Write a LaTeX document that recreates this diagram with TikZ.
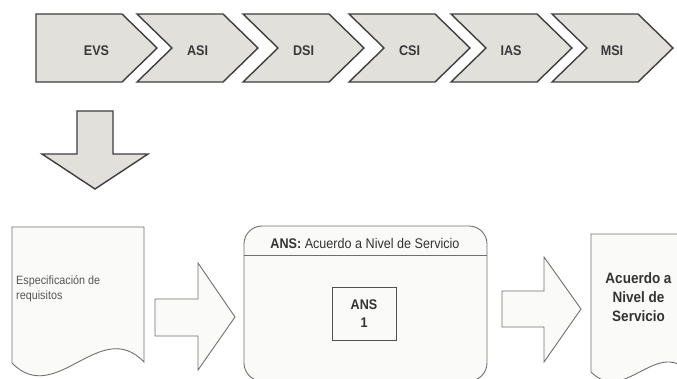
\documentclass[tikz,border=0pt]{standalone}
\usepackage{fontspec}
\setmainfont{Liberation Sans}[FakeStretch=0.9]
\definecolor{chevfill}{HTML}{E1E0DB}
\definecolor{chevline}{HTML}{3E3E3E}
\definecolor{chevtext}{HTML}{383838}
\definecolor{paper}{HTML}{FAFAF8}
\definecolor{lightline}{HTML}{707070}
\definecolor{boxline}{HTML}{505050}
\definecolor{darktext}{HTML}{333333}
\definecolor{graytext}{HTML}{555555}
\begin{document}
\begin{tikzpicture}[x=1pt,y=-1pt,
  chev/.style={fill=chevfill,draw=chevline,line width=1.4pt,line join=miter},
  chevlabel/.style={font=\bfseries\fontsize{14}{16}\selectfont,text=chevtext,inner sep=0pt,anchor=base},
  light/.style={fill=paper,draw=lightline,line width=0.9pt,line join=miter},
  smalltext/.style={font=\fontsize{12}{15}\selectfont,text=graytext,inner sep=0pt,anchor=base west},
  boldtext/.style={font=\bfseries\fontsize{15}{19}\selectfont,text=darktext,inner sep=0pt,align=center}]
\clip (0,0) rectangle (677,378);
\useasboundingbox (0,0) rectangle (677,378);
% chevron process bar
\path[chev] (36,14) -- (122,14) -- (157,48) -- (122,82) -- (36,82) -- cycle;
\foreach \L in {137,243,349,451,552}
  \path[chev] (\L,14) -- ++(86,0) -- ++(35,34) -- ++(-35,34) -- ++(-86,0) -- ++(35,-34) -- cycle;
\node[chevlabel] (evs) at (96.5,55) {EVS};
\node[chevlabel] (asi) at (197.5,55) {ASI};
\node[chevlabel] (dsi) at (303.5,55) {DSI};
\node[chevlabel] (csi) at (409.5,55) {CSI};
\node[chevlabel] (ias) at (511,55) {IAS};
\node[chevlabel] (msi) at (612,55) {MSI};
% down arrow
\path[chev] (77,111) -- (113,111) -- (113,154) -- (148,154) -- (95,189) -- (42,154) -- (77,154) -- cycle;
% document 1
\path[light] (12,227) -- (144,227) -- (144,362)
  .. controls (100,316) and (56,408) .. (12,363) -- cycle;
\node[smalltext] (spec1) at (16,284) {Especificación de};
\node[smalltext] (spec2) at (16,299) {requisitos};
% arrow 1
\path[light] (155,299) -- (198,299) -- (198,263) -- (235,317) -- (198,370) -- (198,336) -- (155,336) -- cycle;
% ANS container
\path[light,rounded corners=18pt] (244,226) rectangle (487,381);
\draw[lightline,line width=0.9pt] (244,255) -- (487,255);
\node[font=\fontsize{14}{16}\selectfont,text=darktext,inner sep=0pt,anchor=base] (anshead) at (365,248)
  {\textbf{ANS:} Acuerdo a Nivel de Servicio};
\node[draw=boxline,fill=paper,line width=0.9pt,minimum width=64pt,minimum height=53pt,inner sep=0pt,
  align=center,font=\bfseries\fontsize{14}{18}\selectfont,text=darktext] (ans1) at (364,313.5) {ANS\\1};
% arrow 2
\path[light] (502,291) -- (544,291) -- (544,257) -- (581,309) -- (544,362) -- (544,327) -- (502,327) -- cycle;
% document 2
\path[light] (591,234) -- (688,234) -- (688,371)
  .. controls (656,339) and (624,405) .. (591,372) -- cycle;
\node[boldtext] (acuerdo) at (638.5,297.5) {Acuerdo a\\Nivel de\\Servicio};
\end{tikzpicture}
\end{document}
